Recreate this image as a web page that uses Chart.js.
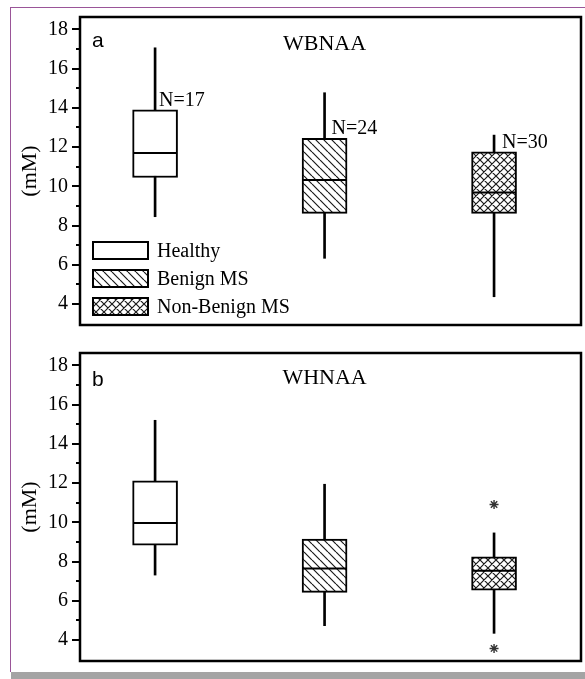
<!DOCTYPE html>
<html><head><meta charset="utf-8">
<script src="https://cdn.jsdelivr.net/npm/chart.js@4.4.1/dist/chart.umd.min.js"></script>
<style>
html,body{margin:0;padding:0;background:#fff;}
body{width:585px;height:679px;position:relative;overflow:hidden;}
#frameL{position:absolute;left:10px;top:7px;width:1px;height:665px;background:#9a5598;}
#frameT{position:absolute;left:10px;top:7px;width:575px;height:1px;background:#9a5598;}
#gray{position:absolute;left:11px;top:672px;width:574px;height:7px;background:#a4a4a4;}
canvas{position:absolute;left:0;}
#ca{top:0;}
#cb{top:336px;}
</style></head><body>
<div id="frameL"></div><div id="frameT"></div><div id="gray"></div>
<canvas id="ca" width="585" height="335"></canvas>
<canvas id="cb" width="585" height="336"></canvas>
<script>
// ---- data ----
const categories = ['Healthy', 'Benign MS', 'Non-Benign MS'];
const yTickLabels = [4, 6, 8, 10, 12, 14, 16, 18];

const wbnaaMin    = [8.45, 6.33, 4.37];
const wbnaaQ1     = [10.45, 8.62, 8.62];
const wbnaaMedian = [11.7, 10.32, 9.69];
const wbnaaQ3     = [13.9, 12.44, 11.76];
const wbnaaMax    = [17.06, 14.77, 12.61];
const wbnaaN      = ['N=17', 'N=24', 'N=30'];

const whnaaMin    = [7.31, 4.73, 4.34];
const whnaaQ1     = [8.83, 6.43, 6.54];
const whnaaMedian = [9.97, 7.65, 7.53];
const whnaaQ3     = [12.11, 9.14, 8.24];
const whnaaMax    = [15.2, 11.94, 9.46];
const whnaaOutlierCat = [3, 3];
const whnaaOutlierVal = [10.91, 3.57];

// ---- styling helpers ----
Chart.defaults.font.family = '"Liberation Serif", "Times New Roman", serif';
Chart.defaults.color = '#000';

function makePattern(kind) {
  const s = 8;
  const c = document.createElement('canvas');
  c.width = s; c.height = s;
  const g = c.getContext('2d');
  g.fillStyle = '#fff'; g.fillRect(0, 0, s, s);
  g.strokeStyle = '#1a1a1a'; g.lineWidth = 1.2;
  g.beginPath();
  for (let k = -1; k <= 1; k++) {
    g.moveTo(k * s, 0); g.lineTo(k * s + s, s);
    if (kind === 'cross') { g.moveTo(k * s, s); g.lineTo(k * s + s, 0); }
  }
  g.stroke();
  return g.createPattern(c, 'repeat');
}
const hatchFill = makePattern('hatch');
const crossFill = makePattern('cross');
const boxFills = ['#ffffff', hatchFill, crossFill];

const panelDecor = {
  id: 'panelDecor',
  afterDraw(chart, args, o) {
    const {ctx, chartArea: a, scales: {x, y}} = chart;
    ctx.save();
    ctx.strokeStyle = '#000'; ctx.lineWidth = 2.5;
    ctx.strokeRect(a.left, a.top, a.right - a.left, a.bottom - a.top);
    ctx.lineWidth = 2;
    y.ticks.forEach(t => {
      if (t.value < 4) return;
      const py = Math.round(y.getPixelForValue(t.value));
      const len = yTickLabels.includes(t.value) ? 8 : 4;
      ctx.beginPath(); ctx.moveTo(a.left - len, py); ctx.lineTo(a.left, py); ctx.stroke();
    });
    ctx.fillStyle = '#000';
    ctx.textAlign = 'left'; ctx.textBaseline = 'alphabetic';
    ctx.font = '21px "Liberation Sans", Arial, sans-serif';
    ctx.fillText(o.letter, a.left + 12, a.top + o.letterDy);
    ctx.textAlign = 'center';
    ctx.font = '22px "Liberation Serif", serif';
    ctx.fillText(o.title, x.getPixelForValue(2), a.top + o.titleDy);
    if (o.nLabels) {
      ctx.textAlign = 'left';
      ctx.font = '20px "Liberation Serif", serif';
      o.nLabels.forEach((t, i) => {
        ctx.fillText(t, x.getPixelForValue(i + 1) + o.nDx[i], y.getPixelForValue(o.nAt[i]) - 4);
      });
    }
    if (o.legend) {
      const lx = a.left + 13, tops = [225, 253, 281];
      ctx.font = '20px "Liberation Serif", serif';
      ctx.textAlign = 'left'; ctx.textBaseline = 'middle';
      categories.forEach((c, i) => {
        const ty = a.top + tops[i];
        ctx.fillStyle = boxFills[i];
        ctx.fillRect(lx, ty, 55, 17);
        ctx.strokeStyle = '#000'; ctx.lineWidth = 2;
        ctx.strokeRect(lx, ty, 55, 17);
        ctx.fillStyle = '#000';
        ctx.fillText(c, lx + 64, ty + 10);
      });
    }
    ctx.restore();
  }
};

function makeChart(id, d, decor, pad) {
  const datasets = [
    { type: 'scatter', label: 'median', order: 0,
      data: categories.map((c, i) => ({x: i + 1, y: d.med[i]})),
      pointStyle: 'line', pointRadius: 21.5, pointBorderWidth: 2, pointBorderColor: '#000', borderColor: '#000' },
    { label: 'box', order: 1, grouped: false, barThickness: 45,
      data: categories.map((c, i) => ({x: i + 1, y: [d.q1[i], d.q3[i]]})),
      backgroundColor: boxFills, borderColor: '#000', borderWidth: 2, borderSkipped: false },
    { label: 'whisker', order: 2, grouped: false, barThickness: 2,
      data: categories.map((c, i) => ({x: i + 1, y: [d.min[i], d.max[i]]})),
      backgroundColor: '#000', borderWidth: 0 }
  ];
  if (d.outCat) {
    datasets.push({ type: 'scatter', label: 'outliers', order: 0,
      data: d.outCat.map((c, i) => ({x: c, y: d.outVal[i]})),
      pointStyle: 'star', pointRadius: 4.5, pointBorderWidth: 1.4, pointBorderColor: '#333', borderColor: '#333' });
  }
  return new Chart(document.getElementById(id), {
    type: 'bar',
    data: { datasets },
    plugins: [panelDecor],
    options: {
      responsive: false, animation: false, events: [], devicePixelRatio: 1,
      layout: { padding: pad, autoPadding: false },
      plugins: { legend: { display: false }, tooltip: { enabled: false }, panelDecor: decor },
      scales: {
        x: { type: 'linear', min: 0.557, max: 3.513, offset: false, display: false },
        y: { type: 'linear', min: 2.93, max: 18.63, beginAtZero: false,
             afterFit(s) { s.width = 80; s.paddingTop = 0; s.paddingBottom = 0; },
             border: { display: false },
             grid: { display: false, drawTicks: false },
             title: { display: true, text: '(mM)', color: '#000',
                      font: { family: '"Liberation Serif", serif', size: 22 }, padding: { top: 17, bottom: 0 } },
             ticks: { stepSize: 1, includeBounds: false, autoSkip: false, padding: 12, color: '#000',
                      font: { family: '"Liberation Serif", serif', size: 20 },
                      callback: v => yTickLabels.includes(v) ? String(v) : '' } }
      }
    }
  });
}

makeChart('ca',
  { min: wbnaaMin, q1: wbnaaQ1, med: wbnaaMedian, q3: wbnaaQ3, max: wbnaaMax },
  { letter: 'a', letterDy: 30, title: 'WBNAA', titleDy: 33, nLabels: wbnaaN, nAt: wbnaaQ3, nDx: [4, 7, 8], legend: true },
  { left: 0, top: 17, right: 4, bottom: 10 });

makeChart('cb',
  { min: whnaaMin, q1: whnaaQ1, med: whnaaMedian, q3: whnaaQ3, max: whnaaMax, outCat: whnaaOutlierCat, outVal: whnaaOutlierVal },
  { letter: 'b', letterDy: 33, title: 'WHNAA', titleDy: 31, legend: false },
  { left: 0, top: 17, right: 4, bottom: 11 });
</script></body></html>
